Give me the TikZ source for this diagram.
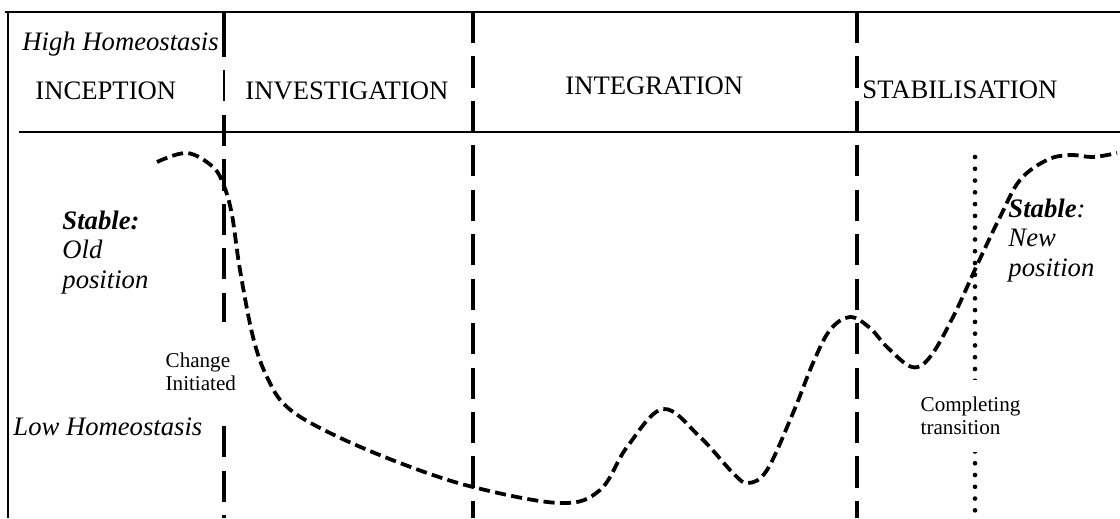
\documentclass[tikz,border=0pt]{standalone}
\usepackage{fontspec}
\setmainfont{Liberation Serif}
\usetikzlibrary{positioning}

\begin{document}
\begin{tikzpicture}[
  x=0.45pt, y=-0.45pt,
  frame/.style    = {line width=0.9pt},
  phasesep/.style = {line width=1.6pt, dash pattern=on 14pt off 6pt},
  donesep/.style  = {line width=2.1pt, line cap=round, dash pattern=on 0pt off 5.3pt},
  trail/.style    = {line width=1.7pt, dash pattern=on 5pt off 2.4pt},
  phase/.style    = {anchor=base west, inner sep=0pt, font=\fontsize{12}{13.2}\selectfont},
  level/.style    = {phase, font=\fontsize{12}{13.2}\selectfont\itshape},
  stable/.style   = {level, align=left},
  remark/.style   = {anchor=west, fill=white, inner xsep=1pt, inner ysep=0pt,
                     align=left, font=\fontsize{9.5}{10.4}\selectfont},
]
  \useasboundingbox (0,0) rectangle (1120,518);
  % frame and header rule
  \draw[frame] (5,12) -- (1120,12);
  \draw[frame] (8,12) -- (8,518);
  \draw[frame] (19,132) -- (1120,132);
  % phase borders
  \draw[line width=1.6pt] (224,12) -- (224,57);
  \draw[line width=0.6pt] (224,70) -- (224,101);
  \draw[phasesep] (224,115) -- (224,518);
  \draw[phasesep] (473,12) -- (473,518);
  \draw[phasesep] (857,12) -- (857,518);
  \draw[donesep]  (975,157) -- (975,518);
  % labels on the borders
  \node[remark, minimum height=45pt] (changed)    at (163,372) {Change\\Initiated};
  \node[remark, minimum height=32pt] (completing) at (918,416) {Completing\\transition};
  % homeostasis trail
  \draw[trail] plot[smooth, tension=0.6] coordinates {
    (157,162) (187,153) (213,167) (224,186) (232,215) (240,270) (253,337)
    (267,377) (287,407) (330,433) (400,463) (473,487) (560,503) (600,490)
    (627,447) (663,409) (700,437) (733,473) (748,483) (767,470) (793,413)
    (813,363) (830,330) (850,317) (870,328) (887,347) (912,367) (930,357)
    (953,317) (978,263) (1000,217) (1020,180) (1047,160) (1070,155)
    (1093,157) (1117,153)};
  % phases
  \node[phase] (inception)     at (35,99)  {INCEPTION};
  \node[phase] (investigation) at (245,99) {INVESTIGATION};
  \node[phase] (integration)   at (565,94) {INTEGRATION};
  \node[phase] (stabilisation) at (862,98) {STABILISATION};
  % levels
  \node[level] (high) at (22,50)  {High Homeostasis};
  \node[level] (low)  at (13,435) {Low Homeostasis};
  \node[stable] (oldpos) at (62,288)   {\textbf{Stable:}\\Old\\position};
  \node[stable] (newpos) at (1008,276) {\textbf{Stable}:\\New\\position};
\end{tikzpicture}
\end{document}
